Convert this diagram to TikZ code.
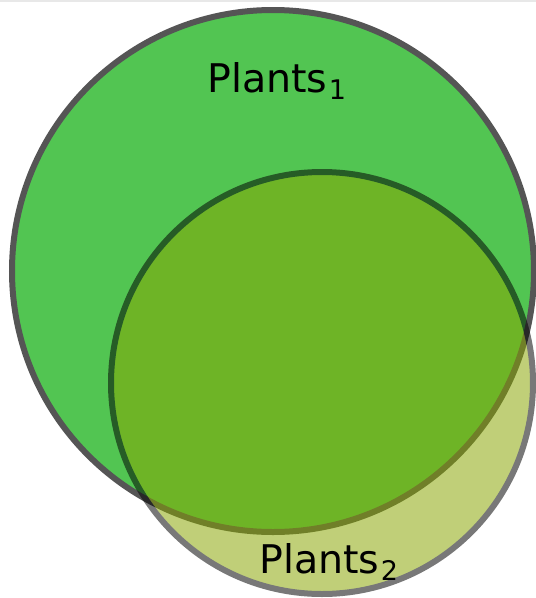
\documentclass[tikz,border=0pt]{standalone}
\usepackage{fontspec}
\setmainfont{DejaVu Sans}
\definecolor{gOne}{RGB}{82,197,82}
\definecolor{gTwo}{RGB}{136,166,0}
\definecolor{rimOne}{RGB}{85,85,85}
\definecolor{topline}{RGB}{232,232,232}
\tikzset{
  setlabel/.style={font=\fontsize{39.5}{40}\selectfont, inner sep=0pt, anchor=base west},
}
\newcommand{\subidx}[1]{\hspace{1.5pt}\raisebox{-7pt}{\fontsize{27}{27}\selectfont #1}}
\begin{document}
\begin{tikzpicture}[x=1pt,y=-1pt]
\useasboundingbox (0,0) rectangle (536,598);
\fill[white] (0,0) rectangle (536,598);
\fill[topline] (0,0) rectangle (536,2);
\filldraw[fill=gOne, draw=rimOne, line width=6pt] (273,271) circle[radius=261];
\begin{scope}[transparency group, opacity=0.53]
\filldraw[fill=gTwo, draw=black, line width=6pt] (322,383) circle[radius=211];
\end{scope}
\node[setlabel] (p1) at (207,92) {Plants\subidx{1}};
\node[setlabel] (p2) at (259,573) {Plants\subidx{2}};
\end{tikzpicture}
\end{document}
